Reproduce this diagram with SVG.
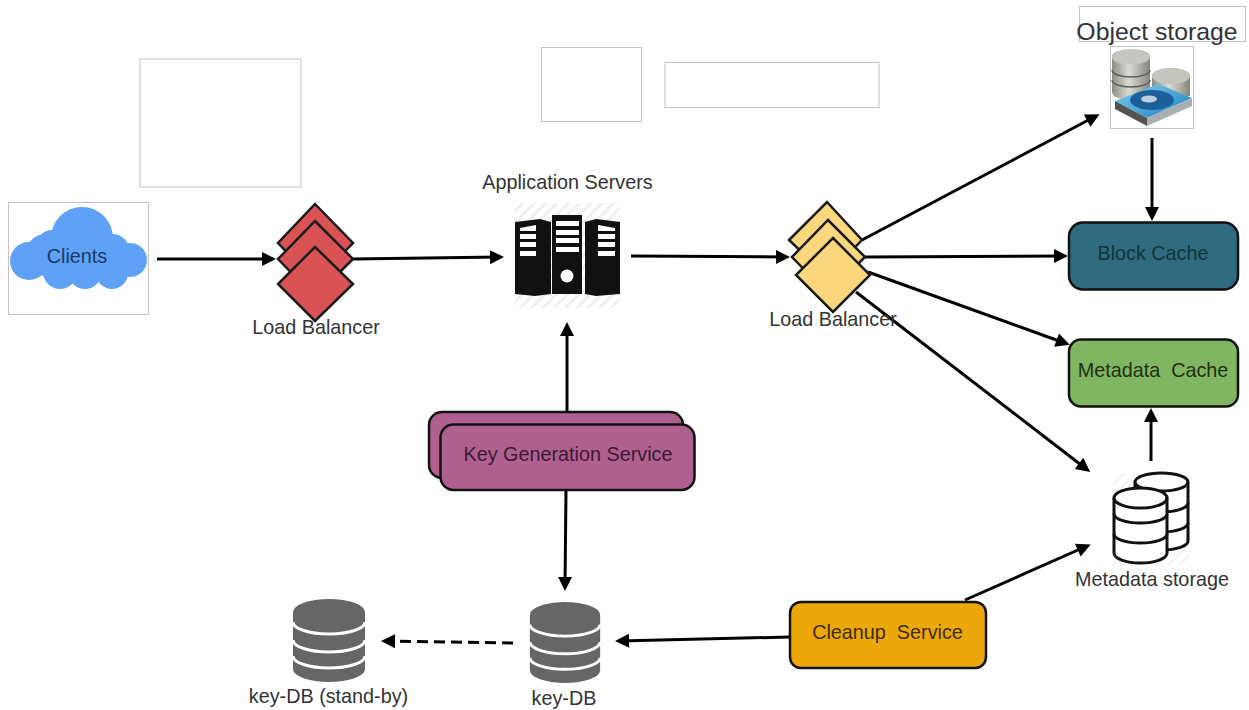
<svg xmlns="http://www.w3.org/2000/svg" width="1249" height="710" viewBox="0 0 1249 710">
<style>
text{font-family:"Liberation Sans",Arial,sans-serif;font-size:19.8px;fill:#333;text-anchor:middle;white-space:pre}
.frame{fill:#fff;stroke:#c4c4c4;stroke-width:1}
.conn{fill:none;stroke:#000;stroke-width:3;marker-end:url(#arrow)}
.box{stroke:#111;stroke-width:2.5}
.red{fill:#d95254;stroke:#1a1a1a;stroke-width:2.5}
.yel{fill:#fbd77d;stroke:#1a1a1a;stroke-width:2.5}
.cyl{fill:#fff;stroke:#111;stroke-width:3}
.ring{fill:none;stroke:#111;stroke-width:3}
.wring{fill:none;stroke:#fff;stroke-width:3}
</style>
<defs>
<marker id="arrow" markerUnits="userSpaceOnUse" markerWidth="18" markerHeight="16" refX="11" refY="8" orient="auto"><path d="M1 1L15 8L1 15z" fill="#000"/></marker>
<pattern id="hatch" width="8" height="8" patternUnits="userSpaceOnUse" patternTransform="rotate(45)"><rect width="3" height="8" fill="#f0f0f0"/></pattern>
<linearGradient id="steel" x1="0" x2="1" y1="0" y2="0"><stop offset="0" stop-color="#8d8d88"/><stop offset=".45" stop-color="#dcdcd6"/><stop offset="1" stop-color="#85857f"/></linearGradient>
<linearGradient id="hdd" x1="0" x2="1" y1="0" y2="1"><stop offset="0" stop-color="#7fd0f0"/><stop offset="1" stop-color="#1c80c0"/></linearGradient>
<symbol id="db" viewBox="0 0 72 83" overflow="visible">
<path d="M0 13A36 13 0 0 1 72 13V70A36 13 0 0 1 0 70Z" fill="#666"/>
<path class="wring" d="M0 23A36 12 0 0 0 72 23"/>
<path class="wring" d="M0 41A36 12 0 0 0 72 41"/>
<path class="wring" d="M0 57A36 12 0 0 0 72 57"/>
</symbol>
</defs>
<rect width="1249" height="710" fill="#fff"/>
<rect class="frame" x="140" y="59" width="161" height="128"/>
<rect class="frame" x="541.500" y="47.500" width="100" height="74"/>
<rect class="frame" x="665" y="62.500" width="214" height="45"/>
<g id="connectors">
<path class="conn" d="M157 259H272"/>
<path class="conn" d="M353 259L500 257"/>
<path class="conn" d="M631 256L786 257"/>
<path class="conn" d="M862 240L1096 116"/>
<path class="conn" d="M865 257L1064 256"/>
<path class="conn" d="M868 272L1066 343.500"/>
<path class="conn" d="M856 292L1087 469.500"/>
<path class="conn" d="M1152 138V217"/>
<path class="conn" d="M1151 461V412"/>
<path class="conn" d="M567 412V326"/>
<path class="conn" d="M566 490L565 587"/>
<path class="conn" d="M965 600L1087 546"/>
<path class="conn" d="M790 637L619 641"/>
<path class="conn" d="M513 643L385 641" stroke-dasharray="11 6"/>
</g>
<g id="clients">
<rect class="frame" x="8.500" y="202.500" width="140" height="112"/>
<g fill="#5ea1f6"><circle cx="29" cy="261" r="19"/><circle cx="46" cy="255" r="21"/><circle cx="52" cy="246" r="16"/><circle cx="82" cy="238" r="31"/><circle cx="112" cy="252" r="18"/><circle cx="130" cy="260" r="17"/><circle cx="60" cy="272" r="17"/><circle cx="85" cy="272" r="17"/><circle cx="112" cy="273" r="16"/><rect x="40" y="245" width="85" height="30"/></g>
<text x="77" y="263" style="fill:#1c3a66">Clients</text>
</g>
<g id="lb1">
<path class="red" d="M315 204L353 243L315 282L278 243Z"/>
<path class="red" d="M315 221L353 259L315 297L278 259Z"/>
<path class="red" d="M315 247L353 284L315 321L278 284Z"/>
<text x="316" y="334">Load Balancer</text>
</g>
<g id="app-servers">
<text x="567.500" y="189">Application Servers</text>
<rect x="515" y="203" width="105" height="105" fill="url(#hatch)"/>
<path d="M515 222L540 219L551 222V294L535 296L515 294Z" fill="#111"/>
<path d="M552 215H582V294H552Z" fill="#111"/>
<path d="M585 222L596 219L620 222V294L596 296L585 294Z" fill="#111"/>
<g fill="#fff">
<path d="M520 228L536 225V231H520Z"/><rect x="520" y="234" width="16" height="5"/><rect x="520" y="242" width="16" height="5"/><rect x="520" y="251" width="16" height="5"/>
<rect x="556" y="221" width="23" height="5"/><rect x="556" y="230" width="23" height="5"/><rect x="556" y="238" width="23" height="5"/><rect x="556" y="247" width="23" height="5"/>
<path d="M598 225L615 228V231H598Z"/><rect x="598" y="234" width="17" height="5"/><rect x="598" y="242" width="17" height="5"/><rect x="598" y="251" width="17" height="5"/>
<circle cx="567" cy="276" r="6.500"/>
</g>
</g>
<g id="lb2">
<path class="yel" d="M827 202L862 240L827 276L789 240Z"/>
<path class="yel" d="M828 220L865 257L828 294L792 257Z"/>
<path class="yel" d="M833 238L870 275L833 312L796 275Z"/>
<text x="833" y="326">Load Balancer</text>
</g>
<g id="object-storage">
<rect class="frame" x="1079.500" y="6.500" width="166" height="35"/>
<text x="1157" y="40" style="font-size:24.8px">Object storage</text>
<rect class="frame" x="1110.500" y="46.500" width="83" height="82"/>
<path d="M1112 57A19 8 0 0 1 1150 57V92A19 8 0 0 1 1112 92Z" fill="url(#steel)"/>
<ellipse cx="1131" cy="57" rx="19" ry="7.500" fill="#c6c6c0"/>
<path d="M1112 70A19 7 0 0 0 1150 70M1112 80A19 7 0 0 0 1150 80" fill="none" stroke="#5f5f5a" stroke-width="1.500"/>
<path d="M1152 76A19 8 0 0 1 1190 76V96L1152 96Z" fill="url(#steel)"/>
<ellipse cx="1171" cy="76" rx="19" ry="8" fill="#c6c6c0"/>
<path d="M1115 101L1158 84L1192 98L1147 118Z" fill="url(#hdd)"/>
<path d="M1115 101L1147 118V126L1115 109Z" fill="#55534f"/>
<path d="M1147 118L1192 98V106L1147 126Z" fill="#a8b0b4"/>
<ellipse cx="1152" cy="100" rx="22" ry="10" fill="#1f5f99"/>
<ellipse cx="1149" cy="99" rx="8" ry="3.500" fill="#b9d2e2"/>
</g>
<g id="block-cache">
<rect class="box" x="1069" y="222.500" width="169" height="67" rx="14" fill="#2f6b7e"/>
<text x="1153" y="260" style="fill:#14333d">Block Cache</text>
</g>
<g id="metadata-cache">
<rect class="box" x="1069" y="339.500" width="169" height="67" rx="12" fill="#80b562"/>
<text x="1153" y="377" style="fill:#1f3012">Metadata  Cache</text>
</g>
<g id="metadata-storage">
<rect x="1113" y="473" width="76" height="92" fill="url(#hatch)" opacity=".6"/>
<path class="cyl" d="M1135 482A26.500 9 0 0 1 1188 482V541A26.500 9 0 0 1 1135 541Z"/>
<path class="ring" d="M1135 482A26.500 9 0 0 0 1188 482M1135 503A26.500 9 0 0 0 1188 503M1135 523A26.500 9 0 0 0 1188 523"/>
<path class="cyl" d="M1114 498A26.500 10 0 0 1 1167 498V553A26.500 10 0 0 1 1114 553Z"/>
<path class="ring" d="M1114 498A26.500 10 0 0 0 1167 498M1114 514A26.500 9 0 0 0 1167 514M1114 534A26.500 9 0 0 0 1167 534"/>
<text x="1152" y="586">Metadata storage</text>
</g>
<g id="key-generation">
<rect class="box" x="429" y="412" width="254" height="66" rx="13" fill="#b0608f"/>
<rect class="box" x="440.500" y="424.500" width="254" height="65.500" rx="13" fill="#b0608f"/>
<text x="568" y="461" style="fill:#3a1a33">Key Generation Service</text>
</g>
<g id="cleanup">
<rect class="box" x="790" y="602" width="196" height="66" rx="11" fill="#eca80a"/>
<text x="887.500" y="639" style="fill:#3f2d05">Cleanup  Service</text>
</g>
<g id="key-db">
<use href="#db" x="529" y="602" width="72" height="81"/>
<text x="564" y="705">key-DB</text>
</g>
<g id="key-db-standby">
<use href="#db" x="293" y="599" width="72" height="83"/>
<text x="328.500" y="703">key-DB (stand-by)</text>
</g>
</svg>
